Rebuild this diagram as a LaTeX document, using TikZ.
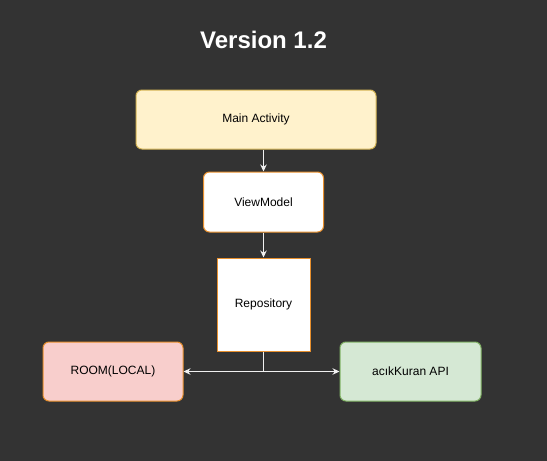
\documentclass[tikz,border=0pt]{standalone}
\usepackage{fontspec}
\setmainfont{Liberation Sans}
\usetikzlibrary{arrows.meta}
\definecolor{bgdark}{HTML}{333333}
\definecolor{mainfill}{HTML}{FFF2CC}
\definecolor{mainline}{HTML}{D6B656}
\definecolor{orangeline}{HTML}{E8902E}
\definecolor{roomfill}{HTML}{F8CECC}
\definecolor{apifill}{HTML}{D5E8D4}
\definecolor{apiline}{HTML}{82B366}
\definecolor{edgewhite}{HTML}{F0F0F0}
\tikzset{
  box/.style={draw, line width=1pt, rounded corners=6pt, align=center,
    inner sep=0pt, font=\fontsize{12pt}{14pt}\selectfont, text=black},
  flow/.style={draw=edgewhite, line width=1.1pt, -{Stealth[length=7pt,width=6.5pt]}},
}
\begin{document}
\begin{tikzpicture}[x=1pt, y=-1pt]
    \fill[bgdark] (0,0) rectangle (547,461); % 背景
    \useasboundingbox (0,0) rectangle (547,461); % 画布大小
    \node (title) at (263.5,39.5) [text=white, font=\bfseries\fontsize{24pt}{28pt}\selectfont] {Version 1.2}; % 标题
    \node (main) at (256,119.5) [box, fill=mainfill, draw=mainline, minimum width=240pt, minimum height=59pt] {Main Activity}; % 主界面
    \node (vm) at (263.5,202) [box, fill=white, draw=orangeline, minimum width=120pt, minimum height=60pt] {ViewModel}; % 视图模型
    \node (repo) at (263.5,304.5) [box, rounded corners=0pt, fill=white, draw=orangeline, minimum width=93pt, minimum height=93pt] {Repository}; % 仓库
    \node (room) at (113,371.5) [box, fill=roomfill, draw=orangeline, minimum width=140pt, minimum height=59pt] {ROOM(LOCAL)}; % 本地数据库
    \node (api) at (410.5,371.5) [box, fill=apifill, draw=apiline, minimum width=141pt, minimum height=59pt] {acıkKuran API}; % 网络接口
    \draw[flow] (vm.north |- main.south) -- (vm.north); % 主界面到视图模型
    \draw[flow] (vm.south) -- (repo.north); % 视图模型到仓库
    \draw[flow] (repo.south) |- (room.east); % 仓库到本地
    \draw[flow] (repo.south) |- (api.west); % 仓库到接口
\end{tikzpicture}
\end{document}
